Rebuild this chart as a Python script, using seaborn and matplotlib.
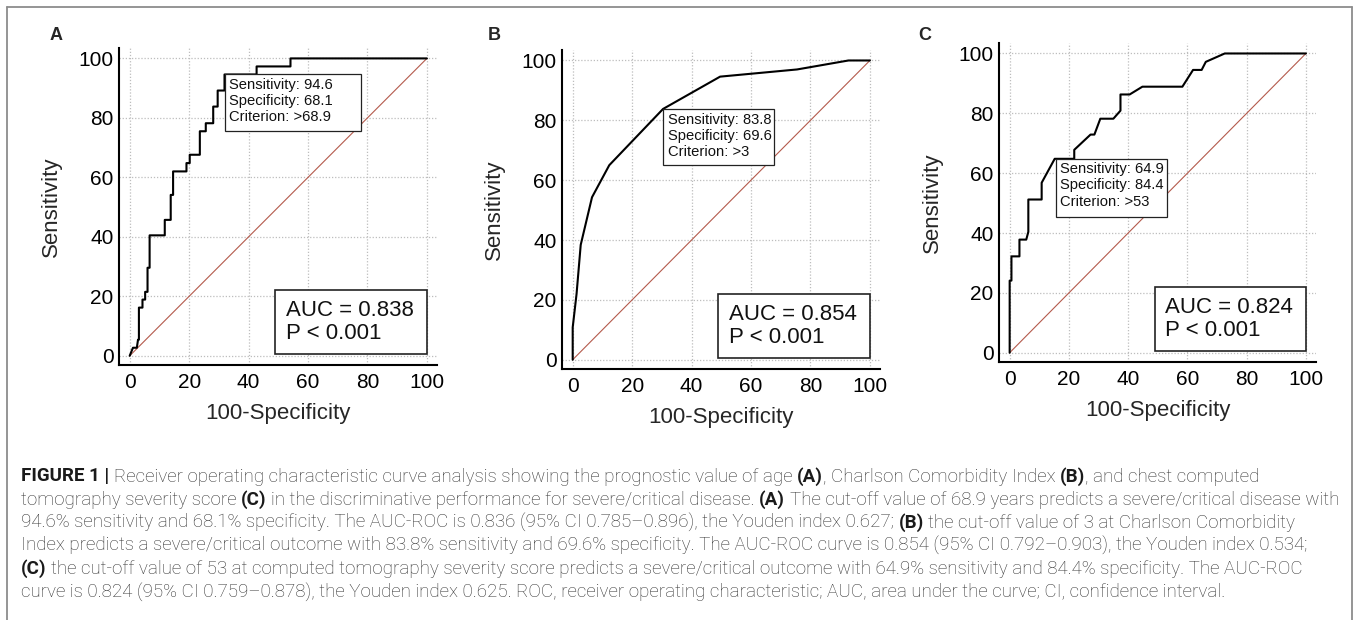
import re
import numpy as np
import pandas as pd
import matplotlib
matplotlib.use("Agg")
import matplotlib.pyplot as plt
from matplotlib.patches import Rectangle
from matplotlib.lines import Line2D
import seaborn as sns

# ---------------- data ----------------
panel_labels = ["A", "B", "C"]

# Panel A: age (staircase ROC vertices, 100-specificity vs sensitivity)
a_fpr = [0, 1.1, 2.4, 2.8, 3.1, 3.1, 4.3, 4.3, 5.2, 5.2, 6.0, 6.0, 6.7, 6.7, 11.8, 11.8,
         13.8, 13.8, 14.6, 14.6, 19.1, 19.1, 20.2, 20.2, 23.6, 23.6, 25.6, 25.6, 28.1,
         28.1, 29.6, 29.6, 31.9, 31.9, 42.7, 42.7, 54.1, 54.1, 100]
a_tpr = [0, 2.7, 2.7, 5.4, 5.4, 16.2, 16.2, 18.9, 18.9, 21.5, 21.5, 29.6, 29.6, 40.5, 40.5, 45.7,
         45.7, 54.1, 54.1, 62.0, 62.0, 64.8, 64.8, 67.6, 67.6, 75.5, 75.5, 78.2, 78.2,
         83.8, 83.8, 89.2, 89.2, 94.6, 94.6, 97.3, 97.3, 100, 100]

# Panel B: Charlson Comorbidity Index
b_fpr = [0, 0, 1.3, 2.7, 6.5, 12.3, 30.4, 49.6, 75.5, 92.8, 100]
b_tpr = [0, 10.8, 22.0, 38.4, 54.3, 65.0, 83.8, 94.6, 97.0, 100, 100]

# Panel C: chest CT severity score
c_fpr = [0, 0, 0.6, 0.6, 3.3, 3.3, 5.6, 6.3, 6.3, 10.8, 10.8, 15.2, 21.8, 21.8, 27.3, 28.6,
         30.6, 35.0, 37.4, 37.4, 40.5, 44.8, 58.3, 61.9, 64.8, 66.2, 72.6, 100]
c_tpr = [0, 24.1, 24.1, 32.2, 32.2, 37.8, 37.8, 40.4, 51.2, 51.2, 56.8, 64.8, 64.8, 67.8, 72.9, 72.9,
         78.2, 78.2, 80.9, 86.3, 86.3, 88.9, 88.9, 94.5, 94.5, 97.2, 100, 100]

chance_line = [0, 100]

sensitivity = [94.6, 83.8, 64.9]
specificity = [68.1, 69.6, 84.4]
criterion = [">68.9", ">3", ">53"]
auc_values = ["0.838", "0.854", "0.824"]
p_values = ["< 0.001", "< 0.001", "< 0.001"]

tick_values = [0, 20, 40, 60, 80, 100]
tick_labels = ["0", "20", "40", "60", "80", "100"]
x_label = "100-Specificity"
y_label = "Sensitivity"

caption_lines = [
    "**FIGURE 1 |** Receiver operating characteristic curve analysis showing the prognostic value of age **(A)**, Charlson Comorbidity Index **(B)**, and chest computed",
    "tomography severity score **(C)** in the discriminative performance for severe/critical disease. **(A)** The cut-off value of 68.9 years predicts a severe/critical disease with",
    "94.6% sensitivity and 68.1% specificity. The AUC-ROC is 0.836 (95% CI 0.785\u20130.896), the Youden index 0.627; **(B)** the cut-off value of 3 at Charlson Comorbidity",
    "Index predicts a severe/critical outcome with 83.8% sensitivity and 69.6% specificity. The AUC-ROC curve is 0.854 (95% CI 0.792\u20130.903), the Youden index 0.534;",
    "**(C)** the cut-off value of 53 at computed tomography severity score predicts a severe/critical outcome with 64.9% sensitivity and 84.4% specificity. The AUC-ROC",
    "curve is 0.824 (95% CI 0.759\u20130.878), the Youden index 0.625. ROC, receiver operating characteristic; AUC, area under the curve; CI, confidence interval.",
]

# ---------------- layout ----------------
W, H = 1358, 620
sns.set_style("white")
plt.rcParams["font.family"] = ["Liberation Sans", "DejaVu Sans"]

fig = plt.figure(figsize=(W / 100, H / 100), dpi=100)
fig.patch.set_facecolor("white")

axes_px = [(119, 48, 437, 365), (562, 50, 880, 369), (999, 43, 1316, 362)]
label_px = [(56, 35), (494, 35), (925, 35)]
annot_box_size = [(45.8, 19.1), (37.2, 18.8), (37.5, 19.5)]
curves = [(a_fpr, a_tpr), (b_fpr, b_tpr), (c_fpr, c_tpr)]

for i, (l, t, r, b) in enumerate(axes_px):
    ax = fig.add_axes([l / W, 1 - b / H, (r - l) / W, (b - t) / H])
    ax.set_facecolor("white")
    ax.set_xlim(-3.6, 103.4)
    ax.set_ylim(-3.1, 103.5)

    ax.grid(True, which="major", color="#bdbdbd", linestyle=(0, (1, 1.5)), linewidth=0.9)
    ax.set_axisbelow(True)

    diag = pd.DataFrame({"x": chance_line, "y": chance_line})
    sns.lineplot(data=diag, x="x", y="y", color="#b45a4c", lw=0.8, ax=ax, zorder=2)

    fpr, tpr = curves[i]
    df = pd.DataFrame({"fpr": fpr, "tpr": tpr})
    sns.lineplot(data=df, x="fpr", y="tpr", sort=False, estimator=None,
                 color="black", lw=1.5, ax=ax, zorder=3)

    ax.set_xticks(tick_values)
    ax.set_xticklabels(tick_labels)
    ax.set_yticks(tick_values)
    ax.set_yticklabels(tick_labels)
    ax.set_xticks(np.arange(0, 101, 5), minor=True)
    ax.set_yticks(np.arange(0, 101, 5), minor=True)
    ax.tick_params(which="major", direction="in", length=7, width=1.1,
                   labelsize=15, colors="black")
    ax.tick_params(axis="x", which="major", pad=6)
    ax.tick_params(axis="y", which="major", pad=4)
    ax.tick_params(which="minor", direction="in", length=4, width=1.0, colors="black")

    for s in ["top", "right"]:
        ax.spines[s].set_visible(False)
    for s in ["left", "bottom"]:
        ax.spines[s].set_linewidth(1.5)
        ax.spines[s].set_color("black")

    ax.set_xlabel(x_label, fontsize=16)
    ax.set_ylabel(y_label, fontsize=16)
    ax.xaxis.set_label_coords(0.5, -0.12)
    ax.yaxis.set_label_coords(-0.178, 0.5)

    # operating-point box
    x0 = 100 - specificity[i]
    y0 = sensitivity[i]
    bw, bh = annot_box_size[i]
    ax.add_patch(Rectangle((x0, y0 - bh), bw, bh, facecolor="white",
                           edgecolor="#222222", lw=0.9, zorder=5))
    ax.text(x0 + 1.5, y0 - 1.2,
            f"Sensitivity: {sensitivity[i]}\nSpecificity: {specificity[i]}\nCriterion: {criterion[i]}",
            fontsize=10.6, va="top", ha="left", zorder=6, linespacing=1.2, color="#111111")

    # AUC box
    ax.add_patch(Rectangle((49, 0.6), 51, 21.4, facecolor="white",
                           edgecolor="#222222", lw=1.2, zorder=5))
    ax.text(52.5, 11.3, f"AUC = {auc_values[i]}\nP {p_values[i]}", fontsize=16,
            va="center", ha="left", zorder=6, linespacing=1.15, color="#111111")

    lx, ly = label_px[i]
    fig.text(lx / W, 1 - ly / H, panel_labels[i], fontsize=13, fontweight="bold",
             ha="center", va="center")

# frame
frame_color = "#8c8c8c"
fig.add_artist(Line2D([7 / W, 7 / W], [0, 1 - 7 / H], color=frame_color, lw=1.3))
fig.add_artist(Line2D([1352 / W, 1352 / W], [0, 1 - 7 / H], color=frame_color, lw=1.3))
fig.add_artist(Line2D([7 / W, 1352 / W], [1 - 7 / H, 1 - 7 / H], color=frame_color, lw=1.3))

# ---------------- caption ----------------
cap_family = ["Roboto", "Liberation Sans", "DejaVu Sans"]
renderer = fig.canvas.get_renderer()


def parse(line):
    segs = []
    for p in re.split(r"(\*\*.+?\*\*)", line):
        if not p:
            continue
        if p.startswith("**"):
            segs.append((p[2:-2], True))
        else:
            segs.append((p, False))
    return segs


def text_w(s, size, bold):
    t = fig.text(0, 0, s, fontsize=size, fontweight="bold" if bold else "light",
                 family=cap_family)
    w = t.get_window_extent(renderer).width
    t.remove()
    return w


def line_width(line, size):
    sp = text_w("a a", size, False) - text_w("aa", size, False)
    tot = 0.0
    for s, bold in parse(line):
        lead = len(s) - len(s.lstrip(" "))
        trail = len(s) - len(s.rstrip(" "))
        core = s.strip(" ")
        tot += (lead + trail) * sp
        if core:
            tot += text_w(core, size, bold)
    return tot


cap_x = 21
cap_targets = [1263, 1323, 1302, 1317, 1304, 1247]
base = 10.0
ratios = [(cap_targets[k] - cap_x) / line_width(caption_lines[k], base) for k in range(6)]
cap_size = base * float(np.mean(ratios))

cap_y0, cap_dy = 481.5, 23.2
for k, line in enumerate(caption_lines):
    sp = text_w("a a", cap_size, False) - text_w("aa", cap_size, False)
    x = cap_x
    yb = cap_y0 + k * cap_dy
    for s, bold in parse(line):
        lead = len(s) - len(s.lstrip(" "))
        trail = len(s) - len(s.rstrip(" "))
        core = s.strip(" ")
        x += lead * sp
        if core:
            t = fig.text(x / W, 1 - yb / H, core, fontsize=cap_size,
                         fontweight="bold" if bold else "light", family=cap_family,
                         color="#1a1a1a" if bold else "#333333", ha="left", va="baseline")
            x += t.get_window_extent(renderer).width
        x += trail * sp

fig.savefig("out.png", dpi=100, facecolor="white")
